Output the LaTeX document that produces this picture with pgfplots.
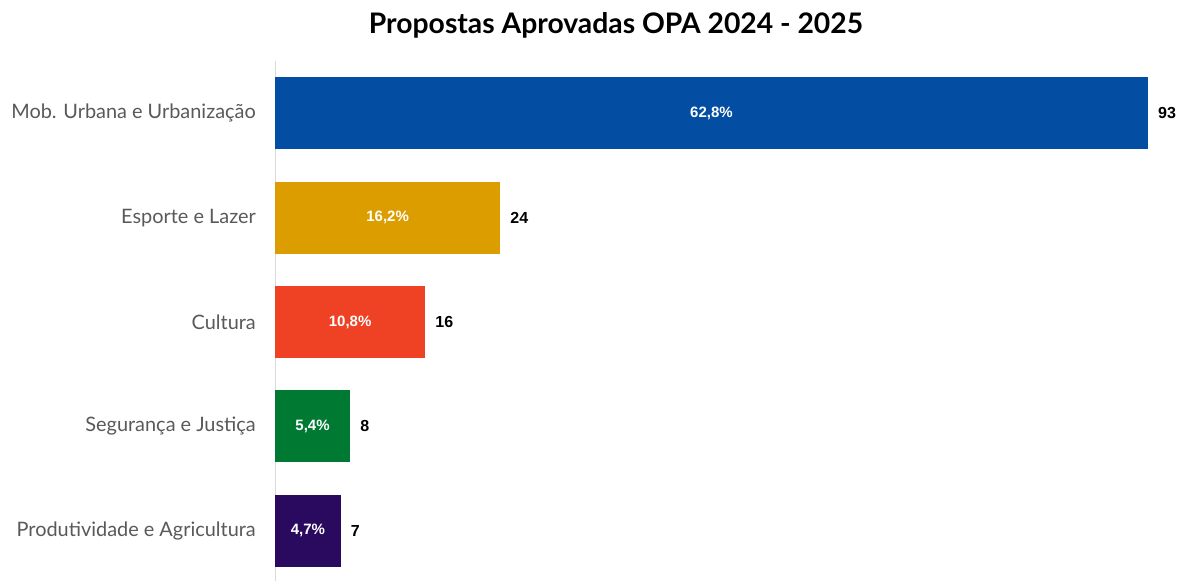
\documentclass[border=0pt]{standalone}
\usepackage{fontspec}
\setmainfont{Lato}
\newfontfamily\numfont{Liberation Sans}
\usepackage{pgfplots}
\usepackage{pgfplotstable}
\pgfplotsset{compat=1.18}
\definecolor{cblue}{HTML}{034EA2}
\definecolor{cgold}{HTML}{DC9D00}
\definecolor{cred}{HTML}{EF4124}
\definecolor{cgreen}{HTML}{007A33}
\definecolor{cpurple}{HTML}{2A0A5E}
\definecolor{labelgray}{HTML}{595959}
\definecolor{axgray}{HTML}{D9D9D9}
\pgfplotstableread{
y v half pct
0 93 46.5 62,8\%
1 24 12 16,2\%
2 16 8 10,8\%
3 8 4 5,4\%
4 7 3.5 4,7\%
}\data
\begin{document}
\begin{tikzpicture}[x=1bp,y=1bp]
\useasboundingbox (0,0) rectangle (1180,581);
\node[font=\fontsize{28.3bp}{32bp}\selectfont\bfseries] at (616,556) {Propostas Aprovadas OPA 2024 - 2025};
\begin{axis}[
  at={(275bp,-2bp)}, anchor=south west,
  scale only axis, width=873bp, height=522bp,
  xmin=0, xmax=93, ymin=-0.5, ymax=4.5, y dir=reverse,
  axis x line=none, axis y line=left,
  y axis line style={-, draw=axgray, line width=1bp},
  ytick={0,1,2,3,4},
  yticklabels={Mob. Urbana e Urbanização, Esporte e Lazer, Cultura, Segurança e Justiça, Produtividade e Agricultura},
  major tick length=0pt,
  yticklabel style={font=\fontsize{19.9bp}{24bp}\selectfont, text=labelgray, anchor=east, inner sep=0pt, xshift=-19bp},
  clip=false,
  point meta=explicit symbolic,
  valstyle/.style={xbar, bar width=0.69, bar shift=0pt, draw=none,
    nodes near coords,
    nodes near coords style={anchor=west, inner sep=0pt, xshift=10bp, text=black, font=\numfont\fontsize{16bp}{18bp}\selectfont\bfseries}},
]
\addplot[valstyle, fill=cblue] coordinates {(93,0) [93]};
\addplot[valstyle, fill=cgold] coordinates {(24,1) [24]};
\addplot[valstyle, fill=cred] coordinates {(16,2) [16]};
\addplot[valstyle, fill=cgreen] coordinates {(8,3) [8]};
\addplot[valstyle, fill=cpurple] coordinates {(7,4) [7]};
\addplot[draw=none, mark=none, nodes near coords,
  nodes near coords style={anchor=center, inner sep=0pt, text=white, font=\numfont\fontsize{15bp}{18bp}\selectfont\bfseries}]
  table[x=half, y=y, meta=pct] {\data};
\end{axis}
\end{tikzpicture}
\end{document}
